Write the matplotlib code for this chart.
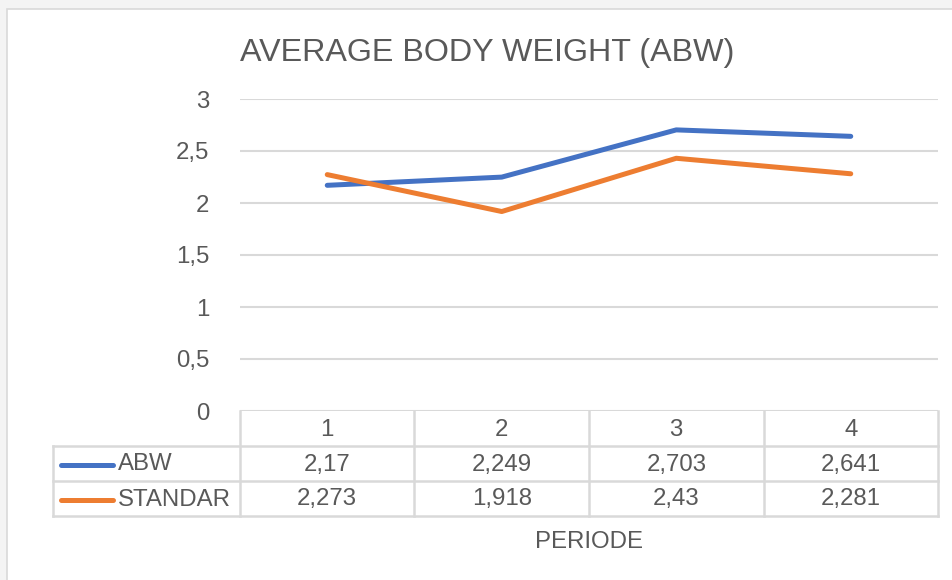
import matplotlib.pyplot as plt
from matplotlib.lines import Line2D
from matplotlib.patches import Rectangle
from matplotlib.transforms import blended_transform_factory

periods = ["1", "2", "3", "4"]
abw = [2.17, 2.249, 2.703, 2.641]
standar = [2.273, 1.918, 2.43, 2.281]
series_names = ["ABW", "STANDAR"]
y_ticks = [0, 0.5, 1, 1.5, 2, 2.5, 3]
title = "AVERAGE BODY WEIGHT (ABW)"
x_label = "PERIODE"

W, H = 953, 580
blue = "#4472C4"
orange = "#ED7D31"
grid = "#D9D9D9"
txt = "#595959"

plt.rcParams["font.family"] = ["Liberation Sans", "DejaVu Sans"]


def fx(px):
    return px / W


def fy(py):
    return 1 - py / H


def comma(v):
    return f"{v:g}".replace(".", ",")


fig = plt.figure(figsize=(W / 100, H / 100), dpi=100, facecolor="#F4F4F4")

# chart area (behind everything)
fig.add_artist(Rectangle((fx(7), fy(590)), fx(960), fy(9) - fy(590),
                         transform=fig.transFigure, facecolor="white",
                         edgecolor=grid, linewidth=1.2, zorder=-10))

ax = fig.add_axes([fx(240), fy(411), fx(938) - fx(240), fy(99) - fy(411)])
ax.set_facecolor("none")
x = [i + 0.5 for i in range(len(periods))]
ax.plot(x, abw, color=blue, linewidth=3.6, solid_capstyle="round",
        solid_joinstyle="round", zorder=3)
ax.plot(x, standar, color=orange, linewidth=3.6, solid_capstyle="round",
        solid_joinstyle="round", zorder=3)

ax.set_xlim(0, len(periods))
ax.set_ylim(0, 3)
ax.set_yticks(y_ticks)
ax.set_yticklabels([comma(t) for t in y_ticks])
ax.set_xticks([])
ax.tick_params(axis="y", length=0, pad=22, labelsize=17.3, labelcolor=txt)
for s in ax.spines.values():
    s.set_visible(False)
ax.grid(axis="y", color=grid, linewidth=1.5)
ax.set_axisbelow(True)

fig.text(fx(240), fy(61), title, fontsize=23.2, color=txt, va="baseline", ha="left")

# data table under the plot
tr = blended_transform_factory(ax.transData, fig.transFigure)
row_top, row_h = 411, 35
lw = 1.8
for i in range(len(periods) + 1):
    fig.add_artist(Line2D([i, i], [fy(row_top), fy(row_top + 3 * row_h)],
                          transform=tr, color=grid, linewidth=lw))
for k in range(1, 4):
    yy = fy(row_top + k * row_h)
    fig.add_artist(Line2D([fx(53), fx(938)], [yy, yy], transform=fig.transFigure,
                          color=grid, linewidth=lw))
fig.add_artist(Line2D([fx(53), fx(53)], [fy(row_top + row_h), fy(row_top + 3 * row_h)],
                      transform=fig.transFigure, color=grid, linewidth=lw))

for i, p in enumerate(periods):
    fig.text(x[i], fy(row_top + row_h / 2 + 1), p, transform=tr, ha="center",
             va="center", fontsize=17.3, color=txt)
rows = [abw, standar]
colors = [blue, orange]
for r, (name, vals, c) in enumerate(zip(series_names, rows, colors)):
    yc = fy(row_top + (r + 1.5) * row_h + 1)
    fig.add_artist(Line2D([fx(61), fx(113)], [yc, yc], transform=fig.transFigure,
                          color=c, linewidth=3.6, solid_capstyle="round"))
    fig.text(fx(118), yc, name, ha="left", va="center", fontsize=17.3, color=txt)
    for i, v in enumerate(vals):
        fig.text(x[i], yc, comma(v), transform=tr, ha="center", va="center",
                 fontsize=17.3, color=txt)

fig.text(fx(589), fy(548), x_label, ha="center", va="baseline", fontsize=17.3, color=txt)

fig.savefig("out.png", dpi=100, facecolor=fig.get_facecolor())
